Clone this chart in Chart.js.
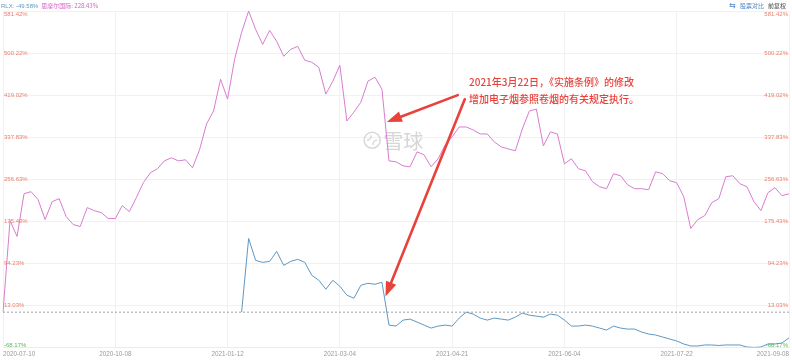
<!DOCTYPE html>
<html>
<head>
<meta charset="utf-8">
<script src="https://cdn.jsdelivr.net/npm/chart.js@4.4.1/dist/chart.umd.min.js"></script>
<style>
  html, body { margin: 0; padding: 0; background: #fff; }
  #wrap { width: 792px; height: 361px; }
</style>
</head>
<body>
<div id="wrap"><canvas id="chart" width="792" height="361"></canvas></div>
<script>
// tick labels along the bottom, one every 16 points
const xTickLabels = ['2020-07-10', '2020-10-08', '2021-01-12', '2021-03-04', '2021-04-21', '2021-06-04', '2021-07-22', '2021-09-08'];
const pointsPerTick = 16;

// percentage ticks shown on both sides
const yTickValues = [581.42, 500.22, 419.02, 337.83, 256.63, 175.43, 94.23, 13.03, -68.17];

// 思摩尔国际 cumulative return (%)
const smooreValues = [
  0, 176.8, 146.1, 228.7, 232.6, 217.2, 178.7, 213.3, 219.1, 184.5,
  169.1, 165.3, 201.8, 196.0, 192.2, 180.7, 180.7, 205.7, 194.1, 221.0,
  249.9, 269.1, 276.8, 292.1, 297.9, 292.1, 294.1, 278.7, 313.3, 363.3,
  388.2, 449.7, 411.3, 488.2, 540.1, 581.42, 545.8, 517.0, 543.9, 522.8,
  494.0, 507.4, 513.2, 486.3, 482.4, 472.8, 420.9, 445.9, 476.7, 369.0,
  386.3, 405.5, 445.9, 453.6, 430.5, 292.1, 290.2, 282.5, 280.6, 309.4,
  303.7, 280.6, 296.0, 322.9, 338.3, 357.5, 357.5, 351.7, 344.0, 344.0,
  328.7, 319.1, 315.2, 311.4, 353.6, 388.2, 392.1, 321.0, 347.9, 344.0,
  286.4, 296.0, 276.8, 272.9, 251.8, 242.2, 238.3, 267.2, 263.3, 246.0,
  238.3, 238.3, 236.4, 271.0, 267.2, 253.7, 249.9, 223.0, 161.4, 178.7,
  186.4, 211.4, 219.1, 261.4, 263.3, 247.9, 242.2, 213.3, 196.0, 230.6,
  240.3, 224.9, 228.43
];

// RLX cumulative return (%), listed from its first trading day
const rlxStart = 34;
const rlxValues = [
  0, 142.2, 99.9, 96.1, 98.0, 117.2, 90.3, 98.0, 101.9, 96.1,
  71.1, 61.5, 44.2, 61.5, 50.0, 32.7, 26.9, 51.9, 55.7, 53.8,
  57.7, -25.0, -26.9, -15.4, -13.5, -19.2, -25.0, -30.8, -26.9, -25.0,
  -26.9, -11.5, 0, -3.8, -11.5, -15.4, -11.5, -13.5, -15.4, -9.6,
  -1.9, -5.8, -7.7, -9.6, -3.8, -5.8, -15.4, -26.9, -26.9, -25.0,
  -26.9, -30.8, -34.6, -26.9, -30.8, -32.7, -32.7, -38.4, -42.3, -44.2,
  -48.1, -51.9, -55.7, -61.5, -65.3, -65.3, -63.4, -63.4, -64.4, -63.4,
  -63.4, -63.4, -67.3, -68.17, -67.3, -61.5, -61.5, -59.6, -49.58
];

const chartLabels = smooreValues.map((v, i) => i % pointsPerTick === 0 ? xTickLabels[i / pointsPerTick] : '');
const rlxSeries = new Array(rlxStart).fill(null).concat(rlxValues);

const pinkColor = '#d97ccf';
const blueColor = '#5e98c3';
const noteRed = '#e8423b';

// note text and arrows, placed in data units (point index, %)
const noteLines = ['2021年3月22日，《实施条例》的修改', '增加电子烟参照卷烟的有关规定执行。'];
const noteAnchor = { index: 66.4, value: 444 };
const noteArrows = [
  { from: { index: 64.8, value: 419 }, to: { index: 54.7, value: 367 } },
  { from: { index: 65.8, value: 411 }, to: { index: 54.5, value: 30 } }
];

const overlayPlugin = {
  id: 'overlay',
  beforeDatasetsDraw(chart) {
    const { ctx, chartArea, scales } = chart;
    // watermark
    ctx.save();
    const wx = scales.x.getPixelForValue(52.6);
    const wy = scales.y.getPixelForValue(332);
    ctx.strokeStyle = '#dadada';
    ctx.lineWidth = 1.6;
    ctx.beginPath();
    ctx.arc(wx, wy, 8, 0, Math.PI * 2);
    ctx.stroke();
    ctx.beginPath();
    ctx.arc(wx - 5, wy - 4, 4, -0.2, 1.6);
    ctx.stroke();
    ctx.beginPath();
    ctx.arc(wx + 5, wy + 4, 4, Math.PI - 0.2, Math.PI + 1.6);
    ctx.stroke();
    ctx.fillStyle = '#d6d6d6';
    ctx.font = '20px "Noto Sans CJK SC"';
    ctx.textBaseline = 'middle';
    ctx.fillText('雪球', wx + 11, wy + 1);
    // dashed zero line
    const y0 = scales.y.getPixelForValue(0);
    ctx.strokeStyle = '#8a8a8a';
    ctx.lineWidth = 0.8;
    ctx.setLineDash([2, 2]);
    ctx.beginPath();
    ctx.moveTo(chartArea.left, y0);
    ctx.lineTo(chartArea.right, y0);
    ctx.stroke();
    ctx.restore();
  },
  afterDraw(chart) {
    const { ctx, chartArea, scales } = chart;
    ctx.save();
    // y labels on both sides, inside the plot
    ctx.font = '6px "Liberation Sans", Arial, sans-serif';
    ctx.textBaseline = 'middle';
    yTickValues.forEach(v => {
      let y = scales.y.getPixelForValue(v);
      y = Math.min(Math.max(y, chartArea.top + 3), chartArea.bottom - 2);
      const txt = v.toFixed(2) + '%';
      ctx.fillStyle = v < 0 ? '#5cb85c' : '#e9806f';
      ctx.textAlign = 'left';
      ctx.fillText(txt, chartArea.left + 1, y);
      ctx.textAlign = 'right';
      ctx.fillText(txt, chartArea.right - 1, y);
    });

    // header
    ctx.textAlign = 'left';
    ctx.fillStyle = blueColor;
    const rlxLast = rlxValues[rlxValues.length - 1];
    const smLast = smooreValues[smooreValues.length - 1];
    const t1 = 'RLX: ' + rlxLast.toFixed(2) + '%';
    ctx.fillText(t1, 1, 6);
    const w1 = ctx.measureText(t1).width;
    ctx.fillStyle = '#d45fc6';
    ctx.font = '6px "Noto Sans CJK SC", "Liberation Sans", sans-serif';
    ctx.fillText('思摩尔国际: ' + smLast.toFixed(2) + '%', w1 + 4, 6);
    ctx.textAlign = 'right';
    ctx.fillStyle = '#444';
    ctx.fillText('前复权', 786, 6);
    ctx.fillStyle = '#4f86c6';
    ctx.fillText('股票对比', 764, 6);
    ctx.font = '8px "DejaVu Sans"';
    ctx.fillText('⇆', 736, 6);

    // note text
    ctx.textAlign = 'left';
    ctx.fillStyle = noteRed;
    ctx.font = '500 10px "Noto Sans CJK SC"';
    const nx = scales.x.getPixelForValue(noteAnchor.index);
    const ny = scales.y.getPixelForValue(noteAnchor.value);
    noteLines.forEach((line, k) => ctx.fillText(line, nx, ny + k * 17));

    // arrows
    noteArrows.forEach(a => {
      const x1 = scales.x.getPixelForValue(a.from.index);
      const y1 = scales.y.getPixelForValue(a.from.value);
      const x2 = scales.x.getPixelForValue(a.to.index);
      const y2 = scales.y.getPixelForValue(a.to.value);
      const ang = Math.atan2(y2 - y1, x2 - x1);
      const headLen = 15, headW = 5.5;
      const bx = x2 - headLen * Math.cos(ang);
      const by = y2 - headLen * Math.sin(ang);
      ctx.strokeStyle = noteRed;
      ctx.lineWidth = 2.6;
      ctx.lineCap = 'round';
      ctx.beginPath();
      ctx.moveTo(x1, y1);
      ctx.lineTo(bx, by);
      ctx.stroke();
      ctx.fillStyle = noteRed;
      ctx.beginPath();
      ctx.moveTo(x2, y2);
      ctx.lineTo(bx + headW * Math.sin(ang), by - headW * Math.cos(ang));
      ctx.lineTo(bx - headW * Math.sin(ang), by + headW * Math.cos(ang));
      ctx.closePath();
      ctx.fill();
    });
    ctx.restore();
  }
};

const config = {
  type: 'line',
  data: {
    labels: chartLabels,
    datasets: [
      {
        label: '思摩尔国际',
        data: smooreValues,
        borderColor: pinkColor,
        borderWidth: 1,
        pointRadius: 0,
        tension: 0
      },
      {
        label: 'RLX',
        data: rlxSeries,
        borderColor: blueColor,
        borderWidth: 1,
        pointRadius: 0,
        tension: 0,
        spanGaps: false
      }
    ]
  },
  options: {
    responsive: false,
    animation: false,
    devicePixelRatio: 1,
    layout: {
      padding: { top: 11, left: 0, right: 2, bottom: 0 }
    },
    plugins: {
      legend: { display: false },
      tooltip: { enabled: false }
    },
    scales: {
      x: {
        type: 'category',
        offset: false,
        afterBuildTicks: scale => {
          scale.ticks = xTickLabels.map((l, k) => ({ value: k * pointsPerTick }));
        },
        grid: { color: '#f1f1f1', drawTicks: false },
        border: { color: '#ececec' },
        ticks: {
          autoSkip: false,
          maxRotation: 0,
          align: 'inner',
          padding: 3,
          color: '#9a9a9a',
          font: { size: 6.3, family: '"Liberation Sans", Arial, sans-serif' }
        }
      },
      y: {
        min: -68.17,
        max: 581.42,
        afterBuildTicks: scale => {
          scale.ticks = yTickValues.map(v => ({ value: v }));
        },
        grid: { color: '#f1f1f1', drawTicks: false },
        border: { display: false },
        ticks: { display: false }
      }
    }
  },
  plugins: [overlayPlugin]
};

const returnsChart = new Chart(document.getElementById('chart'), config);
</script>
</body>
</html>
